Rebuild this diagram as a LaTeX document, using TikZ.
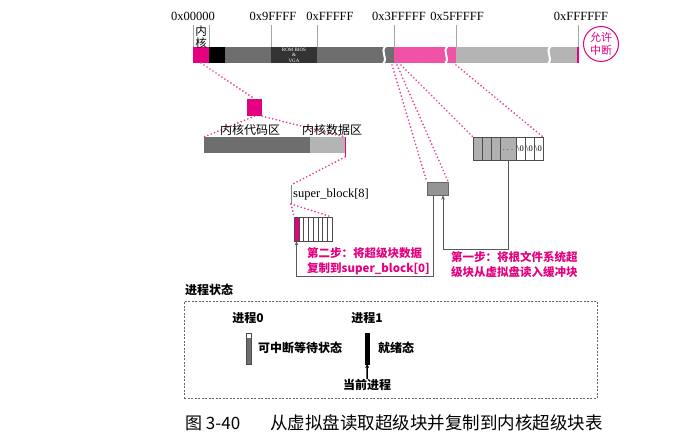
\documentclass[tikz,border=0pt]{standalone}
\usepackage{fontspec}
\setmainfont{Liberation Serif}
\newfontfamily\cjk{Noto Sans CJK SC}
\usetikzlibrary{arrows.meta}
\definecolor{kmag}{HTML}{E4007F}
\definecolor{rdmag}{HTML}{F052A8}
\definecolor{dotmag}{HTML}{EC3C98}
\definecolor{midgray}{HTML}{6E6E6E}
\definecolor{romgray}{HTML}{333333}
\definecolor{ltgray}{HTML}{B4B4B4}
\definecolor{cellgray}{HTML}{B0B0B0}

\begin{document}
\begin{tikzpicture}[x=1pt, y=-1pt,
  mem/.style={inner sep=0, outer sep=0, anchor=north west, minimum height=16},
  addr/.style={font=\fontsize{12.5}{14}\selectfont, inner sep=0},
  lbl/.style={font=\cjk\fontsize{12}{14}\selectfont, inner sep=0},
  boldlbl/.style={font=\cjk\bfseries\fontsize{12}{14}\selectfont, inner sep=0},
  steptxt/.style={font=\cjk\bfseries\fontsize{11.5}{15}\selectfont, text=kmag,
                  align=left, inner sep=0, anchor=north west},
  tick/.style={draw=gray!70, line width=0.6},
  dots/.style={dotmag, line width=1.9, line cap=round, dash pattern=on 0pt off 3.6pt},
  flow/.style={draw=black!65, line width=0.9, -{Stealth[length=4.5pt, width=3.5pt]}},
  brk/.style={white, line width=2}
]
\useasboundingbox (0,0) rectangle (680,438);

% memory map
\node[mem, fill=kmag,    minimum width=16]  (kern) at (193,47) {};
\node[mem, fill=black,   minimum width=16]  (blk)  at (209,47) {};
\node[mem, fill=midgray, minimum width=46]  (low)  at (225,47) {};
\node[mem, fill=romgray, minimum width=46]  (rom)  at (271,47) {};
\node[mem, fill=midgray, minimum width=77]  (high) at (317,47) {};
\node[mem, fill=rdmag,   minimum width=62]  (rd)   at (394,47) {};
\node[mem, fill=ltgray,  minimum width=122] (ext)  at (456,47) {};
\draw[kmag, line width=1.2] (ext.north east) -- (ext.south east);
\node[font=\fontsize{5}{5.5}\selectfont, text=white, align=center, inner sep=0]
  (romtxt) at (rom.center) {ROM BIOS\\\&\\VGA};
\foreach \bx in {384,446,549}
  \draw[brk] (\bx+2,46) .. controls (\bx-5,52) and (\bx+5,57) .. (\bx-1,64);

\foreach \tx in {193,209,271,317,394,456,578}
  \draw[tick] (\tx,25) -- (\tx,47);

\node[addr] (a0) at (193,16) {0x00000};
\node[addr] (a1) at (273,16) {0x9FFFF};
\node[addr] (a2) at (330,16) {0xFFFFF};
\node[addr] (a3) at (399,16) {0x3FFFFF};
\node[addr] (a4) at (457,16) {0x5FFFFF};
\node[addr] (a5) at (581,16) {0xFFFFFF};
\node[lbl, align=center, font=\cjk\fontsize{11.5}{12}\selectfont] (kt) at (201,37) {内\\核};
\node[circle, draw=kmag, line width=1, text=kmag, inner sep=0, minimum size=35,
      align=center, font=\cjk\fontsize{11}{12.5}\selectfont] (irq) at (601,44) {允许\\中断};

% kernel area
\node[fill=kmag, inner sep=0, minimum width=15, minimum height=17] (kblk) at (254.5,107.5) {};
\node[mem, fill=midgray, minimum width=106] (kcode) at (204,137) {};
\node[mem, fill=ltgray,  minimum width=35]  (kdata) at (310,137) {};
\coordinate (dtip) at (345,157);
\draw[kmag, line width=1] (kdata.north east) -- (dtip);
\draw[dots] (kern.south) -- (kblk.north);
\draw[dots] (kblk.south) -- (kcode.north west);
\draw[dots] (kblk.south east) -- (kdata.north east);
\node[lbl] (lcode) at (250,130) {内核代码区};
\node[lbl] (ldata) at (332,130) {内核数据区};

% super_block table
\coordinate (sbtop) at (291,185);
\coordinate (sbbot) at (291,204);
\draw[gray, line width=0.8] (sbtop) -- (sbbot);
\node[anchor=west, inner sep=0, font=\fontsize{12.5}{14}\selectfont] (sbl) at (293,194) {super\_block[8]};
\draw[dots] (dtip) -- (sbtop);
\fill[kmag] (294,217) rectangle (299,241);
\foreach \i in {1,...,7}
  \draw[black!70, line width=0.5] (294+\i*4.75,217) -- (294+\i*4.75,241);
\node[mem, draw=black!70, line width=0.6, minimum width=38, minimum height=24] (sbarr) at (294,217) {};
\draw[dots] (sbbot) -- (sbarr.north west);
\draw[dots] (sbbot) -- (sbarr.north east);

% buffer and root fs super block
\node[draw=black!60, fill=black!42, inner sep=0, minimum width=21, minimum height=13] (buf) at (437.5,188.5) {};
\fill[cellgray] (473,137) rectangle (516,160);
\foreach \cx in {482,491,500,516,525,534}
  \draw[black!70, line width=0.5] (\cx,137) -- (\cx,160);
\node[mem, draw=black!70, line width=0.6, minimum width=70, minimum height=23] (rootarr) at (473,137) {};
\node[inner sep=0, font=\fontsize{9}{9}\selectfont] (dd) at (508,150) {$\cdots$};
\foreach \cx/\nm in {520.5/z1,529.5/z2,538.5/z3}
  \node[inner sep=0, font=\fontsize{8.5}{8.5}\selectfont] (\nm) at (\cx,149) {\textbackslash 0};

\coordinate (r1) at (392,65);
\coordinate (r2) at (397,65);
\coordinate (r3) at (401,65);
\coordinate (r4) at (456,65);
\draw[dots] (r1) -- (buf.north west);
\draw[dots] (r2) -- (buf.north east);
\draw[dots] (r3) -- (rootarr.north west);
\draw[dots] (r4) -- (rootarr.north east);

\draw[flow] (rootarr.south) -- ++(0,89) -| ([xshift=5.5pt]buf.south);
\draw[flow] ([xshift=-4.5pt]buf.south) -- ++(0,81) -| ([xshift=2.5pt]sbarr.south west);

\node[steptxt] (s2) at (307,247) {第二步：将超级块数据\\复制到super\_block[0]};
\node[steptxt] (s1) at (451,251) {第一步：将根文件系统超\\级块从虚拟盘读入缓冲块};

% process states
\node[boldlbl, anchor=west] (pst) at (185,290) {进程状态};
\node[draw=black!60, dash pattern=on 2pt off 1.5pt, line width=0.8, inner sep=0,
      minimum width=413, minimum height=97, anchor=north west] (pbox) at (184,301) {};
\node[boldlbl] (p0) at (248,318) {进程0};
\fill[midgray] (246,333) rectangle (251,364);
\fill[white] (246,333) rectangle (251,338);
\node[mem, draw=black!70, line width=0.6, minimum width=5, minimum height=31] (bar0) at (246,333) {};
\node[boldlbl, anchor=west] (w0) at (258,348) {可中断等待状态};
\node[boldlbl] (p1) at (367,318) {进程1};
\node[mem, draw=black, fill=black, minimum width=4.5, minimum height=31] (bar1) at (365,333) {};
\node[boldlbl, anchor=west] (w1) at (378,348) {就绪态};
\node[boldlbl] (cur) at (367,385) {当前进程};
\draw[-{Stealth[length=4pt, width=4pt]}, line width=1.5] (cur.north) -- (bar1.south);

% caption
\node[font=\cjk\fontsize{17}{18}\selectfont, anchor=west, inner sep=0] (cap1) at (185,423) {图 3-40};
\node[font=\cjk\fontsize{17.5}{18}\selectfont, anchor=west, inner sep=0] (cap2) at (270,423)
  {从虚拟盘读取超级块并复制到内核超级块表};
\end{tikzpicture}
\end{document}
